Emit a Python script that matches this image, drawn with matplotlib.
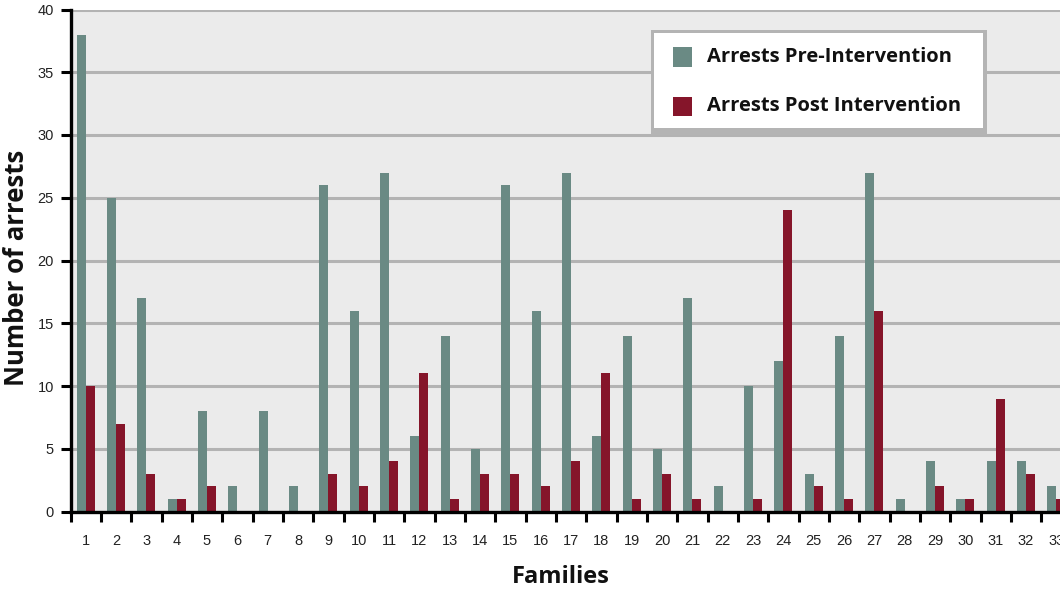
import matplotlib
matplotlib.use("Agg")
import matplotlib.pyplot as plt
import numpy as np
from matplotlib.patches import Rectangle

families = [str(i) for i in range(1, 34)]
pre_intervention = [38, 25, 17, 1, 8, 2, 8, 2, 26, 16, 27, 6, 14, 5, 26, 16, 27,
                    6, 14, 5, 17, 2, 10, 12, 3, 14, 27, 1, 4, 1, 4, 4, 2]
post_intervention = [10, 7, 3, 1, 2, 0, 0, 0, 3, 2, 4, 11, 1, 3, 3, 2, 4,
                     11, 1, 3, 1, 0, 1, 24, 2, 1, 16, 0, 2, 1, 9, 3, 1]
y_ticks = [0, 5, 10, 15, 20, 25, 30, 35, 40]
series_names = ["Arrests Pre-Intervention", "Arrests Post Intervention"]

PRE_COLOR = "#6a8a84"
POST_COLOR = "#85152a"
BG = "#ebebeb"
GRID = "#b3b3b3"
TITLE_FONT = "Open Sans"

W, H = 1060, 590
fig = plt.figure(figsize=(W / 100, H / 100), dpi=100)
fig.patch.set_facecolor("white")

def fx(px):
    return px / W

def fy(py):
    return 1 - py / H

left, right, top, bottom = 70.5, 1071.5, 9.5, 511.5
ax = fig.add_axes([fx(left), fy(bottom), fx(right) - fx(left), fy(top) - fy(bottom)])
ax.set_facecolor(BG)

x = np.arange(len(families))
bw = 0.3
ax.bar(x - bw / 2, pre_intervention, width=bw, color=PRE_COLOR, zorder=3)
ax.bar(x + bw / 2, post_intervention, width=bw, color=POST_COLOR, zorder=3)

ax.set_xlim(-0.5, len(families) - 0.5)
ax.set_ylim(0, 40)

# horizontal grid
ax.set_yticks(y_ticks)
ax.yaxis.grid(True, color=GRID, linewidth=2.2, zorder=1)
ax.set_axisbelow(True)

# x ticks: marks at group boundaries, labels at centres
ax.set_xticks(np.arange(len(families) + 1) - 0.5)
ax.set_xticklabels([])
ax.set_xticks(x, minor=True)
ax.set_xticklabels(families, minor=True)
ax.tick_params(axis="x", which="major", direction="out", length=7, width=2.2,
               color="black")
ax.tick_params(axis="x", which="minor", length=0, pad=16, labelsize=10.5,
               labelcolor="#222222")
ax.tick_params(axis="y", direction="out", length=7, width=2.2, color="black",
               labelsize=10.5, labelcolor="#222222", pad=5)
for lbl in ax.get_xticklabels(minor=True) + ax.get_yticklabels():
    lbl.set_family("Liberation Sans")

for s in ["top", "right"]:
    ax.spines[s].set_visible(False)
for s in ["left", "bottom"]:
    ax.spines[s].set_linewidth(2.4)
    ax.spines[s].set_color("black")
    ax.spines[s].set_zorder(4)

# axis titles
fig.text(fx(17), fy(268), "Number of arrests", rotation=90, ha="center",
         va="center", fontsize=18.5, fontweight="bold", family=TITLE_FONT,
         color="#111111")
fig.text(fx(561), fy(577), "Families", ha="center", va="center",
         fontsize=17, fontweight="bold", family=TITLE_FONT, color="#111111")

# legend box with shadow
def frect(x0, y0, x1, y1, **kw):
    r = Rectangle((fx(x0), fy(y1)), fx(x1) - fx(x0), fy(y0) - fy(y1),
                  transform=fig.transFigure, **kw)
    fig.add_artist(r)
    return r

frect(651, 30, 987, 135, facecolor="#b4b4b4", edgecolor="none", zorder=10)
frect(654, 33, 983, 128, facecolor="white", edgecolor="none", zorder=11)
for name, color, yc in zip(series_names, [PRE_COLOR, POST_COLOR], [57, 106]):
    frect(673, yc - 9.5, 692, yc + 9.5, facecolor=color, edgecolor="none",
          zorder=12)
    fig.text(fx(707), fy(yc), name, ha="left", va="center", fontsize=14.5,
             fontweight="bold", family=TITLE_FONT, color="#111111", zorder=13)

fig.savefig("out.png", dpi=100, facecolor="white")
